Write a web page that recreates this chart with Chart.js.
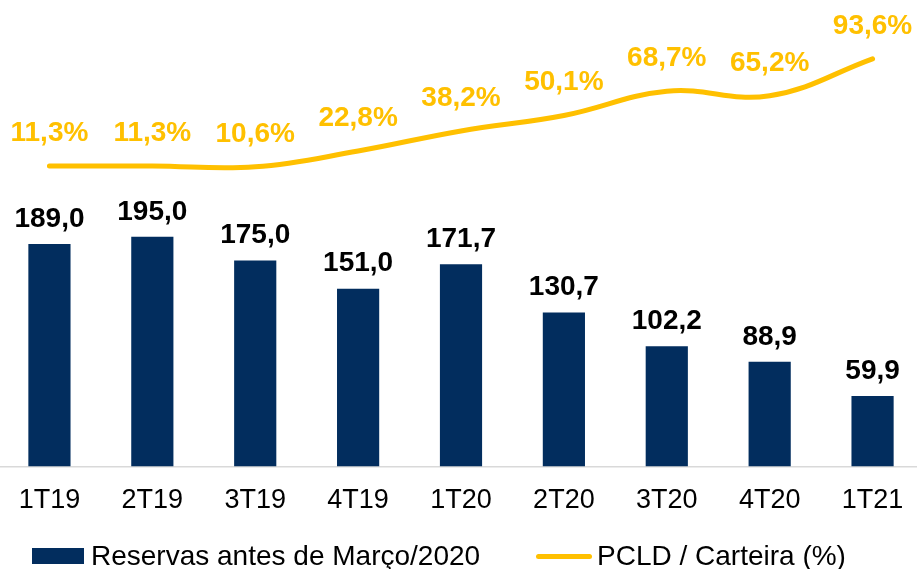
<!DOCTYPE html>
<html lang="pt-BR">
<head>
<meta charset="utf-8">
<title>Reservas x PCLD</title>
<script src="https://cdn.jsdelivr.net/npm/chart.js@4.4.1/dist/chart.umd.min.js"></script>
<style>
    html, body { margin: 0; padding: 0; background: #fff; overflow: hidden; }
    #wrap { position: relative; width: 917px; height: 569px; overflow: hidden; }
    #grafico { position: absolute; left: -2px; top: 0; }
    .legenda-item {
        position: absolute; top: 540px; height: 32px;
        display: flex; align-items: center; white-space: nowrap;
        font: 28px 'Liberation Sans', Arial, sans-serif; color: #000;
    }
    .legenda-item span.caixa { display: inline-block; }
</style>
</head>
<body>
<div id="wrap">
    <canvas id="grafico" width="926" height="569"></canvas>
    <div id="legenda"></div>
</div>
<script>
const trimestres = ['1T19', '2T19', '3T19', '4T19', '1T20', '2T20', '3T20', '4T20', '1T21'];
const reservas = [189.0, 195.0, 175.0, 151.0, 171.7, 130.7, 102.2, 88.9, 59.9];
const pcld = [11.3, 11.3, 10.6, 22.8, 38.2, 50.1, 68.7, 65.2, 93.6];
const nomesSeries = ['Reservas antes de Março/2020', 'PCLD / Carteira (%)'];

const corBarra = '#022d5e';
const corLinha = '#ffc000';
const fonte = "'Liberation Sans', Arial, sans-serif";

const fmt = v => v.toFixed(1).replace('.', ',');

// rótulos de valor em cima das barras e da linha
const rotulos = {
    id: 'rotulos',
    afterDatasetsDraw(chart) {
        const ctx = chart.ctx;
        ctx.save();
        ctx.textAlign = 'center';
        ctx.textBaseline = 'middle';
        ctx.font = `bold 28px ${fonte}`;
        chart.data.datasets.forEach((ds, i) => {
            const meta = chart.getDatasetMeta(i);
            const ehLinha = ds.type === 'line';
            ctx.fillStyle = ehLinha ? corLinha : '#000';
            meta.data.forEach((el, j) => {
                const txt = fmt(ds.data[j]) + (ehLinha ? '%' : '');
                ctx.fillText(txt, el.x, el.y - (ehLinha ? 33 : 25));
            });
        });
        ctx.restore();
    }
};

const grafico = new Chart(document.getElementById('grafico'), {
    type: 'bar',
    data: {
        labels: trimestres,
        datasets: [
            {
                type: 'line',
                label: nomesSeries[1],
                data: pcld,
                yAxisID: 'yLinha',
                borderColor: corLinha,
                borderWidth: 5,
                borderCapStyle: 'round',
                tension: 0.4,
                pointRadius: 0,
                fill: false
            },
            {
                type: 'bar',
                label: nomesSeries[0],
                data: reservas,
                yAxisID: 'yBarra',
                backgroundColor: corBarra,
                barPercentage: 0.41,
                categoryPercentage: 1.0
            }
        ]
    },
    options: {
        responsive: false,
        animation: false,
        layout: { padding: { top: 0, bottom: 42, left: 0, right: 0 } },
        plugins: {
            legend: { display: false },
            tooltip: { enabled: false }
        },
        scales: {
            x: {
                grid: { display: false },
                border: { display: true, color: '#d9d9d9', width: 1.5 },
                ticks: { color: '#000', padding: 10, font: { size: 27, family: fonte } }
            },
            yBarra: { display: false, min: 0, max: 396 },
            yLinha: { display: false, min: -219.7, max: 138.8 }
        }
    },
    plugins: [rotulos]
});

// legenda montada à mão para ficar igual ao original
function montarLegenda() {
    const div = document.getElementById('legenda');
    div.innerHTML = `
        <div class="legenda-item" style="left:32px">
            <span class="caixa" style="width:52px;height:16px;background:${corBarra};margin-right:7px"></span>${nomesSeries[0]}
        </div>
        <div class="legenda-item" style="left:536px">
            <span class="caixa" style="width:56px;height:5px;border-radius:3px;background:${corLinha};margin-right:5px"></span>${nomesSeries[1]}
        </div>`;
}
montarLegenda();
</script>
</body>
</html>
